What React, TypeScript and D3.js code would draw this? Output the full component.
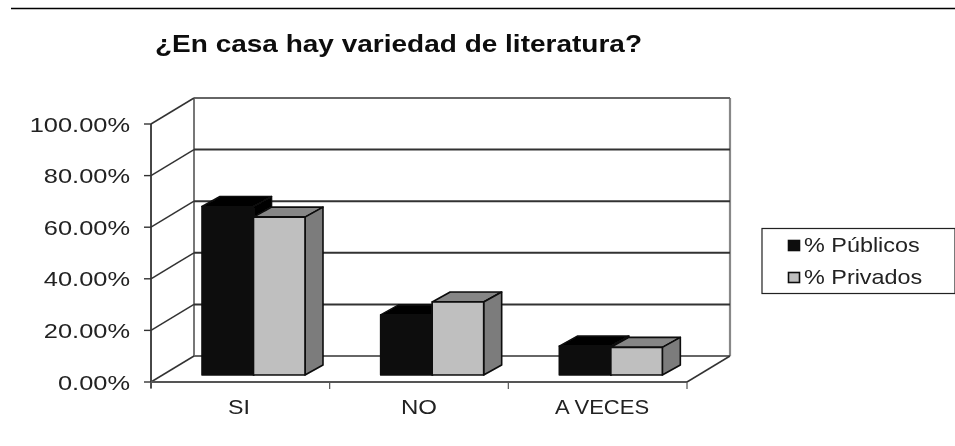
import React from "react";
import * as d3 from "d3";

const categories = ["SI", "NO", "A VECES"];
const categoryCenters = [239, 419, 602];
const categoryStretch = [1.16, 1.2, 1.1];
const seriesNames = ["% Públicos", "% Privados"];
const seriesStretch = [1.17, 1.17];
const publicos = [65.3, 23.3, 11.2];
const privados = [61.2, 28.3, 10.7];
const yTicks = [0, 20, 40, 60, 80, 100];
const title = "¿En casa hay variedad de literatura?";

const FONT = "'Liberation Sans', Arial, sans-serif";
const frontLeft = 151;
const frontRight = 687;
const frontBottom = 382;
const frontTop = 124;
const depthX = 43;
const depthY = 26;
const barDX = 18;
const barDY = 10;
const barBase = 7;
const barWidth = 51.5;

const y = d3.scaleLinear().domain([0, 100]).range([frontBottom, frontTop]);
const xBand = d3.scaleBand<string>().domain(categories).range([frontLeft, frontRight]);
const poly = (pts: [number, number][]) => pts.map((p) => p.join(",")).join(" ");

const fills = [
  { front: "#101010", top: "#050505", side: "#050505" },
  { front: "#bfbfbf", top: "#868686", side: "#7c7c7c" },
];

function Bar({ x, value, s }: { x: number; value: number; s: number }) {
  const yTop = y(value) - barBase;
  const yBot = y(0) - barBase;
  const c = fills[s];
  const st = { stroke: "#0a0a0a", strokeWidth: 1.6, strokeLinejoin: "round" as const };
  return (
    <g>
      <polygon points={poly([[x, yTop], [x + barDX, yTop - barDY], [x + barWidth + barDX, yTop - barDY], [x + barWidth, yTop]])} fill={c.top} {...st} />
      <polygon points={poly([[x + barWidth, yTop], [x + barWidth + barDX, yTop - barDY], [x + barWidth + barDX, yBot - barDY], [x + barWidth, yBot]])} fill={c.side} {...st} />
      <rect x={x} y={yTop} width={barWidth} height={yBot - yTop} fill={c.front} {...st} />
    </g>
  );
}

export default function App() {
  const bw = xBand.bandwidth();
  return (
    <svg width={955} height={446} style={{ position: "absolute", left: 0, top: 0, background: "#fff" }}>
      <defs>
        <filter id="soft" x="-5%" y="-5%" width="110%" height="110%">
          <feGaussianBlur stdDeviation="0.45" />
        </filter>
      </defs>
      <g filter="url(#soft)">
        <line x1={11} x2={955} y1={8.5} y2={8.5} stroke="#000" strokeWidth={1.4} />
        <text x={155} y={52} fontFamily={FONT} fontWeight="bold" fontSize={24} fill="#111" textLength={487} lengthAdjust="spacingAndGlyphs">{title}</text>

        {/* walls */}
        <line x1={frontLeft + depthX} x2={frontLeft + depthX} y1={y(100) - depthY} y2={y(0) - depthY} stroke="#777" strokeWidth={2} />
        <line x1={frontRight + depthX} x2={frontRight + depthX} y1={y(100) - depthY} y2={y(0) - depthY} stroke="#888" strokeWidth={2.2} />
        {yTicks.map((t) => (
          <g key={t}>
            <line x1={frontLeft + depthX} x2={frontRight + depthX} y1={y(t) - depthY} y2={y(t) - depthY} stroke={t === 100 || t === 0 ? "#666" : "#333"} strokeWidth={2} />
            <line x1={frontLeft} x2={frontLeft + depthX} y1={y(t)} y2={y(t) - depthY} stroke="#333" strokeWidth={1.5} />
            <line x1={frontLeft - 7} x2={frontLeft} y1={y(t)} y2={y(t)} stroke="#333" strokeWidth={1.4} />
            <text transform={`translate(130,${y(t) + 7.5}) scale(1.21,1)`} textAnchor="end" fontFamily={FONT} fontSize={21} fill="#222">{d3.format(".2f")(t)}%</text>
          </g>
        ))}
        {/* axes */}
        <line x1={frontLeft} x2={frontLeft} y1={y(100)} y2={y(0) + 6} stroke="#333" strokeWidth={1.8} />
        <line x1={frontLeft} x2={frontRight} y1={y(0)} y2={y(0)} stroke="#555" strokeWidth={2} />
        <line x1={frontRight} x2={frontRight + depthX} y1={y(0)} y2={y(0) - depthY} stroke="#333" strokeWidth={1.5} />
        {[0, 1, 2, 3].map((i) => (
          <line key={i} x1={frontLeft + i * bw} x2={frontLeft + i * bw} y1={y(0)} y2={y(0) + 7} stroke="#555" strokeWidth={1.2} />
        ))}

        {/* bars */}
        {categories.map((c, i) => {
          const start = (xBand(c) as number) + 51;
          return (
            <g key={c}>
              <Bar x={start} value={publicos[i]} s={0} />
              <Bar x={start + barWidth} value={privados[i]} s={1} />
            </g>
          );
        })}

        {categories.map((c, i) => (
          <text key={c} transform={`translate(${categoryCenters[i]},414) scale(${categoryStretch[i]},1)`} textAnchor="middle" fontFamily={FONT} fontSize={20} fill="#222">{c}</text>
        ))}

        {/* legend */}
        <rect x={762} y={228.5} width={193} height={65} fill="#fff" stroke="#222" strokeWidth={1.2} />
        {seriesNames.map((n, i) => (
          <g key={n}>
            <rect x={788.5} y={240.5 + i * 32} width={11} height={10} fill={fills[i].front} stroke="#111" strokeWidth={1.6} />
            <text transform={`translate(804,${252 + i * 32}) scale(${seriesStretch[i]},1)`} fontFamily={FONT} fontSize={20} fill="#222">{n}</text>
          </g>
        ))}
      </g>
    </svg>
  );
}
